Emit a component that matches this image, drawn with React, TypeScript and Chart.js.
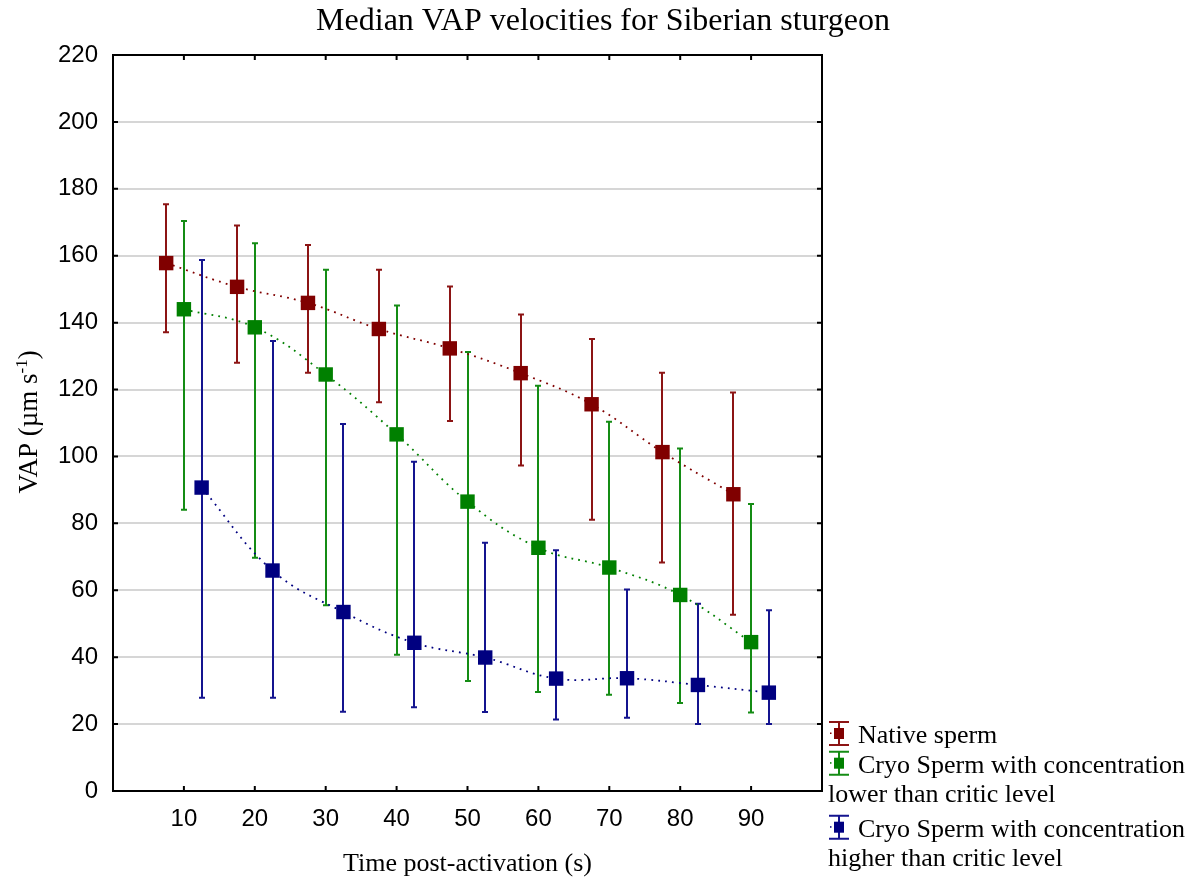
import React, { useEffect, useRef } from 'react';
import { Chart, registerables } from 'chart.js';

Chart.register(...registerables);

// ---------- data ----------
const timeTicks = [10, 20, 30, 40, 50, 60, 70, 80, 90];
const vapTicks = [0, 20, 40, 60, 80, 100, 120, 140, 160, 180, 200, 220];

const chartTitle = 'Median VAP velocities for Siberian sturgeon';
const xTitle = 'Time post-activation (s)';
const yTitleMain = 'VAP (µm s';
const yTitleSup = '-1';
const yTitleEnd = ')';

const legendLines = [
  ['Native sperm'],
  ['Cryo Sperm with concentration', 'lower than critic level'],
  ['Cryo Sperm with concentration', 'higher than critic level'],
];

const nativeTime = [7.5, 17.5, 27.5, 37.5, 47.5, 57.5, 67.5, 77.5, 87.5];
const nativeMedian = [157.8, 150.7, 145.9, 138.1, 132.3, 124.9, 115.6, 101.3, 88.7];
const nativeLow = [137.1, 128.0, 125.0, 116.2, 110.6, 97.3, 81.1, 68.3, 52.7];
const nativeHigh = [175.4, 169.0, 163.2, 155.8, 150.8, 142.4, 135.1, 125.0, 119.1];

const cryoLowTime = [10, 20, 30, 40, 50, 60, 70, 80, 90];
const cryoLowMedian = [144.0, 138.6, 124.5, 106.6, 86.5, 72.7, 66.8, 58.6, 44.5];
const cryoLowLow = [84.1, 69.7, 55.5, 40.7, 32.9, 29.6, 28.8, 26.3, 23.5];
const cryoLowHigh = [170.4, 163.7, 155.8, 145.1, 131.2, 121.1, 110.4, 102.4, 85.8];

const cryoHighTime = [12.5, 22.5, 32.5, 42.5, 52.5, 62.5, 72.5, 82.5, 92.5];
const cryoHighMedian = [90.7, 65.9, 53.5, 44.3, 39.9, 33.6, 33.7, 31.7, 29.4];
const cryoHighLow = [27.9, 27.9, 23.7, 25.0, 23.6, 21.4, 21.9, 20.0, 20.0];
const cryoHighHigh = [158.7, 134.5, 109.7, 98.4, 74.2, 72.0, 60.2, 56.0, 54.0];

// ---------- styles ----------
const markerColors = ['#800000', '#008000', '#000080'];
const barColors = ['#8c1414', '#148c14', '#14148f'];
const SERIF = '"Liberation Serif", "Times New Roman", serif';
const SANS = '"Liberation Sans", Arial, sans-serif';

const W = 1201;
const H = 882;

function makeDataset(label: string, times: number[], med: number[], lo: number[], hi: number[], i: number) {
  return {
    label,
    data: times.map((t, k) => ({ x: t, y: med[k] })),
    errLow: lo,
    errHigh: hi,
    barColor: barColors[i],
    borderColor: markerColors[i],
    backgroundColor: markerColors[i],
    borderWidth: 1.8,
    borderDash: [1.8, 5.2],
    borderCapStyle: 'butt',
    tension: 0.4,
    pointStyle: 'rect',
    pointRadius: 10.2,
    pointHoverRadius: 10.2,
    pointBorderWidth: 0,
    pointBackgroundColor: markerColors[i],
    fill: false,
  };
}

const customPlugin = {
  id: 'customDraw',
  beforeDatasetsDraw(chart: any) {
    const { ctx } = chart;
    const xs = chart.scales.x;
    const ys = chart.scales.y;
    chart.data.datasets.forEach((ds: any) => {
      ctx.save();
      ctx.strokeStyle = ds.barColor;
      ctx.lineWidth = 2;
      ds.data.forEach((p: any, k: number) => {
        const px = Math.round(xs.getPixelForValue(p.x));
        const yl = ys.getPixelForValue(ds.errLow[k]);
        const yh = ys.getPixelForValue(ds.errHigh[k]);
        ctx.beginPath();
        ctx.moveTo(px, yl);
        ctx.lineTo(px, yh);
        ctx.moveTo(px - 3, yl);
        ctx.lineTo(px + 3, yl);
        ctx.moveTo(px - 3, yh);
        ctx.lineTo(px + 3, yh);
        ctx.stroke();
      });
      ctx.restore();
    });
  },
  afterDraw(chart: any) {
    const { ctx, chartArea } = chart;
    const { left, right, top, bottom } = chartArea;
    const xs = chart.scales.x;
    const ys = chart.scales.y;
    ctx.save();
    // frame
    ctx.strokeStyle = '#000';
    ctx.lineWidth = 2;
    ctx.strokeRect(left, top, right - left, bottom - top);
    // inward ticks
    ctx.beginPath();
    timeTicks.forEach((v) => {
      const px = xs.getPixelForValue(v);
      ctx.moveTo(px, bottom);
      ctx.lineTo(px, bottom - 5);
      ctx.moveTo(px, top);
      ctx.lineTo(px, top + 5);
    });
    vapTicks.forEach((v) => {
      const py = ys.getPixelForValue(v);
      ctx.moveTo(left, py);
      ctx.lineTo(left + 5, py);
      ctx.moveTo(right, py);
      ctx.lineTo(right - 5, py);
    });
    ctx.stroke();

    // title
    ctx.fillStyle = '#000';
    ctx.textAlign = 'center';
    ctx.textBaseline = 'alphabetic';
    ctx.font = `32px ${SERIF}`;
    ctx.fillText(chartTitle, 603, 30);

    // x title
    ctx.font = `26px ${SERIF}`;
    ctx.fillText(xTitle, (left + right) / 2, 871);

    // y title (rotated, with superscript)
    ctx.save();
    ctx.translate(37, (top + bottom) / 2 - 1);
    ctx.rotate(-Math.PI / 2);
    ctx.textAlign = 'left';
    const mainFont = `27px ${SERIF}`;
    const supFont = `17px ${SERIF}`;
    ctx.font = mainFont;
    const w1 = ctx.measureText(yTitleMain).width;
    const w3 = ctx.measureText(yTitleEnd).width;
    ctx.font = supFont;
    const w2 = ctx.measureText(yTitleSup).width;
    const total = w1 + w2 + w3;
    let cx = -total / 2;
    ctx.font = mainFont;
    ctx.fillText(yTitleMain, cx, 0);
    cx += w1;
    ctx.font = supFont;
    ctx.fillText(yTitleSup, cx, -10);
    cx += w2;
    ctx.font = mainFont;
    ctx.fillText(yTitleEnd, cx, 0);
    ctx.restore();

    // legend
    const baselines = [743, 772.7, 836.7];
    const lineStep = 29;
    ctx.font = `26px ${SERIF}`;
    ctx.textAlign = 'left';
    legendLines.forEach((lines, i) => {
      const b = baselines[i];
      const cy = b - 9.5;
      const ix = 839;
      ctx.strokeStyle = barColors[i];
      ctx.lineWidth = 2;
      ctx.beginPath();
      ctx.moveTo(ix, cy - 11.5);
      ctx.lineTo(ix, cy + 11.5);
      ctx.moveTo(ix - 10, cy - 11.5);
      ctx.lineTo(ix + 10, cy - 11.5);
      ctx.moveTo(ix - 10, cy + 11.5);
      ctx.lineTo(ix + 10, cy + 11.5);
      ctx.stroke();
      ctx.fillStyle = markerColors[i];
      ctx.fillRect(ix - 5, cy - 5.5, 10, 11);
      ctx.fillRect(ix - 9, cy - 1, 1.5, 1.5);
      ctx.fillStyle = '#000';
      lines.forEach((t, k) => {
        ctx.fillText(t, k === 0 ? 858 : 828, b + k * lineStep);
      });
    });
    ctx.restore();
  },
};

export default function App() {
  const ref = useRef<HTMLCanvasElement | null>(null);
  useEffect(() => {
    if (!ref.current) return;
    const chart = new Chart(ref.current, {
      type: 'line',
      data: {
        datasets: [
          makeDataset(legendLines[0].join(' '), nativeTime, nativeMedian, nativeLow, nativeHigh, 0),
          makeDataset(legendLines[1].join(' '), cryoLowTime, cryoLowMedian, cryoLowLow, cryoLowHigh, 1),
          makeDataset(legendLines[2].join(' '), cryoHighTime, cryoHighMedian, cryoHighLow, cryoHighHigh, 2),
        ] as any,
      },
      options: {
        responsive: false,
        animation: false,
        devicePixelRatio: 1,
        layout: { padding: { left: 0, top: 55, right: W - 822, bottom: 0 } },
        plugins: {
          legend: { display: false },
          title: { display: false },
          tooltip: { enabled: false },
        },
        scales: {
          x: {
            type: 'linear',
            min: 0,
            max: 100,
            afterBuildTicks: (s: any) => {
              s.ticks = timeTicks.map((v) => ({ value: v }));
            },
            afterFit: (s: any) => {
              s.height = H - 791;
            },
            grid: { display: false, drawTicks: false },
            border: { display: false },
            ticks: {
              font: { family: SANS, size: 24 },
              color: '#000',
              padding: 14,
              maxRotation: 0,
              autoSkip: false,
            },
          },
          y: {
            type: 'linear',
            min: 0,
            max: 220,
            afterBuildTicks: (s: any) => {
              s.ticks = vapTicks.map((v) => ({ value: v }));
            },
            afterFit: (s: any) => {
              s.width = 113;
            },
            grid: { color: '#d6d6d6', lineWidth: 2, drawTicks: false },
            border: { display: false },
            ticks: {
              font: { family: SANS, size: 24 },
              color: '#000',
              padding: 15,
              autoSkip: false,
            },
          },
        },
      },
      plugins: [customPlugin],
    });
    return () => chart.destroy();
  }, []);

  return (
    <div style={{ position: 'fixed', left: 0, top: 0, width: W, height: H, background: '#fff' }}>
      <canvas ref={ref} width={W} height={H} style={{ width: W, height: H, display: 'block' }} />
    </div>
  );
}
